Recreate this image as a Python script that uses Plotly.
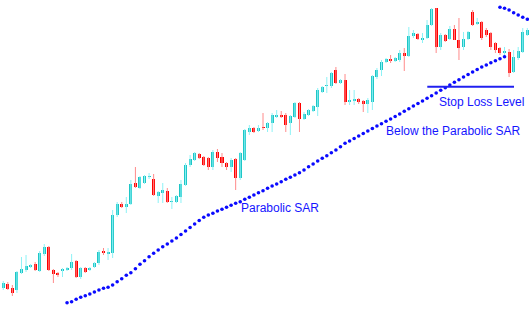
import plotly.graph_objects as go

# ---- data (price levels) ----
open_ = [21,25,29,25,23,40,43,46,49,42,59,66,43,40,42,43,45,52,36,45,
         43,46,50,62,59,60,98,109,106,109,130,125,130,136,134,117,120,122,111,111,
         116,128,148,153,159,156,155,146,161,156,150,146,154,135,153,181,185,182,186,185,
         190,196,198,198,190,196,210,194,198,202,206,221,227,227,243,230,233,211,212,214,
         212,209,211,236,243,251,254,252,253,260,257,277,279,273,275,288,305,266,278,274,
         284,273,266,274,301,289,291,283,280,270,265,260,261,241,255,261,278]
high = [30,32,31,28,42,56,58,49,51,62,69,67,44,41,45,46,59,53,46,46,
        46,51,63,65,65,103,111,111,116,133,146,137,138,140,139,122,130,125,116,118,
        133,150,158,161,160,157,156,163,164,160,151,155,155,161,184,188,186,188,200,191,
        200,203,202,200,198,211,211,201,204,208,225,227,236,241,246,234,239,223,223,215,
        213,215,238,245,253,255,258,256,263,265,286,283,280,280,293,305,305,280,279,287,
        288,295,281,282,303,295,292,285,281,271,266,266,264,263,266,285,285]
low = [19,23,23,17,20,39,41,45,42,41,57,42,30,36,36,42,43,35,34,40,
       42,45,48,58,53,55,96,105,100,108,125,124,129,134,117,110,110,110,104,110,
       110,127,146,152,154,147,143,143,151,146,143,141,123,133,152,178,180,181,183,181,
       181,195,195,181,178,195,181,193,197,201,197,220,220,225,229,229,208,208,208,209,
       201,200,203,234,237,250,250,251,251,242,256,275,273,270,274,287,260,263,271,273,
       273,253,263,273,287,288,273,276,263,260,258,256,236,240,253,260,277]
close = [28,30,24,20,41,44,47,48,43,60,66,43,39,38,44,45,51,36,45,41,
         45,50,61,60,61,98,109,106,109,129,126,136,137,137,118,121,123,111,112,117,
         129,148,154,160,155,148,146,161,155,150,146,153,135,160,183,185,181,185,185,190,
         198,198,196,188,197,210,194,199,203,207,223,226,228,240,230,233,211,213,214,211,
         209,213,237,243,251,254,252,255,260,257,277,280,274,275,288,304,266,278,272,284,
         273,265,274,281,288,291,275,278,266,263,260,262,240,256,262,281,283]

sar_start = 15
sar_below = [10.3,11.3,13.7,15.7,17.3,19,21,23,24.7,25.7,28,31.3,34.3,37.7,40.3,44.3,48.7,52.3,56.3,59.7,
             63,66.3,69,72,75,78.5,82,85.5,89,92.5,95.7,98,99.7,102,103.7,105.7,107.7,109.7,111.3,113.7,
             115.7,118,120.3,122.3,124.7,127,129,131.3,133.7,135.7,138,140.3,143,146.3,149,152,154.7,157.3,160.3,163,
             166.3,169.7,172,174.5,177,179.5,182,184.5,187,189.3,191.7,194,196.5,199,201.7,204.3,207,209.5,212,214.7,
             217.3,220,222.7,225.3,228,230.7,233.3,236,238.5,241,243.5,246,248,250.3,252.3,254.3,256.3]
sar_above_start = 110
sar_above = [305.7,304.7,303,300.3,298,295.7,293.7]
stop_loss_level = 226.3
stop_loss_from, stop_loss_to = 94.05, 113.08

n = len(close)
idx = list(range(n))
CYAN, RED = "#1fc6c6", "#ff0000"
CYAN_W, RED_W = "#8cf2f6", "#ff8a8a"
SAR_COL = "#0a0aff"

fig = go.Figure()
fig.add_trace(go.Ohlc(x=idx, open=open_, high=high, low=low, close=close, tickwidth=0,
                      increasing=dict(line=dict(color=CYAN_W, width=1)),
                      decreasing=dict(line=dict(color=RED_W, width=1)),
                      hoverinfo="skip", showlegend=False))
body_base = [min(o, c) for o, c in zip(open_, close)]
body_h = [max(abs(c - o), 1) for o, c in zip(open_, close)]
body_col = [CYAN if c >= o else RED for o, c in zip(open_, close)]
fig.add_trace(go.Bar(x=idx, y=body_h, base=body_base, width=0.66,
                     marker=dict(color=body_col, line=dict(width=0)), showlegend=False))
fig.add_trace(go.Scatter(x=list(range(sar_start, sar_start + len(sar_below))), y=sar_below,
                         mode="markers", marker=dict(color=SAR_COL, size=3.6, symbol="circle"),
                         showlegend=False))
fig.add_trace(go.Scatter(x=list(range(sar_above_start, sar_above_start + len(sar_above))), y=sar_above,
                         mode="markers", marker=dict(color=SAR_COL, size=3.6, symbol="circle"),
                         showlegend=False))
fig.add_shape(type="line", x0=stop_loss_from, x1=stop_loss_to, y0=stop_loss_level, y1=stop_loss_level,
              xref="x", yref="y", line=dict(color="#2020f0", width=2))

font = dict(family="Liberation Sans, Arial, sans-serif", size=12, color="#1515ff")
fig.add_annotation(text="Parabolic SAR", x=0.5284, y=0.3345, xref="paper", yref="paper",
                   showarrow=False, font=font, xanchor="center", yanchor="middle")
fig.add_annotation(text="Below the Parabolic SAR", x=0.8563, y=0.5815, xref="paper", yref="paper",
                   showarrow=False, font=font, xanchor="center", yanchor="middle")
fig.add_annotation(text="Stop Loss Level", x=0.9093, y=0.6732, xref="paper", yref="paper",
                   showarrow=False, font=font, xanchor="center", yanchor="middle")

fig.update_layout(width=529, height=313, margin=dict(l=0, r=0, t=0, b=0),
                  paper_bgcolor="white", plot_bgcolor="white", showlegend=False, bargap=0,
                  xaxis=dict(range=[0.2853, 116.37], visible=False, rangeslider=dict(visible=False),
                             type="linear", fixedrange=True),
                  yaxis=dict(range=[0, 313], visible=False, fixedrange=True))
fig.write_html("out.html")
